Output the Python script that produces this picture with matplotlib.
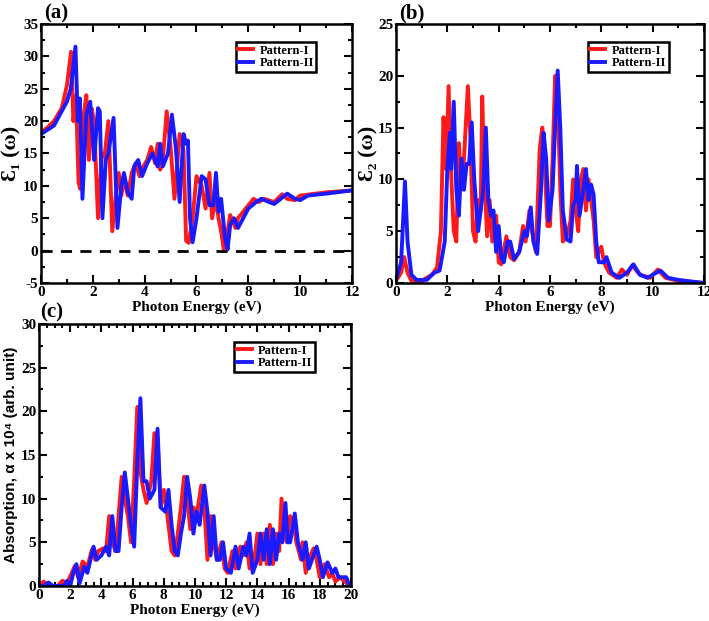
import matplotlib
matplotlib.use("Agg")
import matplotlib.pyplot as plt
from matplotlib.ticker import MultipleLocator

plt.rcParams['font.family'] = ['Liberation Serif', 'DejaVu Serif']
plt.rcParams['font.weight'] = 'bold'
plt.rcParams['axes.unicode_minus'] = False

RED = '#ff1a1a'
BLUE = '#1a1aff'

# (a) real part eps1
e1_x_p1 = [0, 0.3, 0.5, 0.8, 1.0, 1.16, 1.25, 1.35, 1.45, 1.52, 1.65, 1.75, 1.85, 1.95, 2.05,
           2.2, 2.35, 2.45, 2.6, 2.75, 2.9, 3.0, 3.1, 3.2, 3.35, 3.5, 3.65, 3.8, 3.95, 4.1,
           4.25, 4.4, 4.5, 4.6, 4.7, 4.85, 5.0, 5.15, 5.35, 5.5, 5.6, 5.7, 5.85, 6.0, 6.2,
           6.35, 6.5, 6.6, 6.75, 6.85, 6.95, 7.05, 7.2, 7.3, 7.5, 7.6, 7.9, 8.2, 8.4, 8.6,
           9.0, 9.3, 9.5, 9.8, 10.0, 11.0, 12.0]
e1_y_p1 = [18.2, 19.2, 20.0, 22.0, 25.5, 30.7, 20.0, 24.0, 10.5, 9.5, 21.0, 24.0, 14.0, 22.0, 20.0,
           5.0, 15.0, 14.5, 20.0, 3.0, 9.0, 12.0, 8.5, 11.0, 8.5, 12.0, 13.5, 11.5, 13.0, 14.0,
           16.0, 13.5, 16.5, 12.5, 14.0, 21.5, 16.0, 8.0, 18.0, 15.5, 1.5, 1.2, 5.0, 11.5, 10.0,
           6.5, 12.0, 5.0, 8.0, 5.0, 3.0, 0.2, 3.0, 5.5, 3.5, 5.0, 6.5, 8.0, 7.5, 8.0,
           7.5, 8.7, 8.0, 7.8, 8.5, 9.0, 9.3]
e1_x_p2 = [0, 0.5, 1.0, 1.15, 1.33, 1.42, 1.5, 1.6, 1.75, 1.9, 2.05, 2.2, 2.27, 2.37, 2.5,
           2.6, 2.8, 2.95, 3.1, 3.2, 3.35, 3.5, 3.6, 3.75, 3.9, 4.1, 4.3, 4.5, 4.6, 4.7,
           4.9, 5.05, 5.2, 5.35, 5.5, 5.6, 5.67, 5.75, 5.85, 6.0, 6.2, 6.35, 6.5, 6.65, 6.75,
           6.85, 6.95, 7.1, 7.2, 7.3, 7.45, 7.6, 7.8, 8.0, 8.3, 8.5, 8.8, 9.0, 9.5, 9.8,
           10.0, 10.3, 11.0, 12.0]
e1_y_p2 = [18.0, 19.3, 23.0, 25.0, 31.5, 20.0, 23.5, 8.0, 21.0, 23.0, 14.0, 22.0, 21.5, 5.0, 14.0,
           15.0, 20.5, 3.5, 10.0, 12.0, 9.0, 8.0, 13.0, 14.0, 11.5, 13.5, 15.0, 13.0, 16.5, 13.0,
           15.0, 21.0, 16.0, 7.5, 18.0, 16.5, 17.0, 5.0, 1.3, 5.0, 11.5, 11.0, 7.0, 7.0, 12.0,
           6.0, 8.0, 2.0, 0.2, 4.0, 5.0, 3.5, 5.0, 6.5, 7.5, 8.0, 7.5, 7.2, 8.8, 8.0,
           7.8, 8.5, 8.8, 9.3]

# (b) imaginary part eps2
e2_x_p1 = [0, 0.2, 0.32, 0.45, 0.6, 1.0, 1.4, 1.6, 1.75, 1.85, 1.95, 2.05, 2.15, 2.25, 2.35,
           2.45, 2.55, 2.65, 2.8, 2.9, 3.0, 3.1, 3.2, 3.3, 3.36, 3.45, 3.55, 3.65, 3.75, 3.9,
           4.0, 4.1, 4.3, 4.45, 4.6, 4.8, 4.95, 5.05, 5.2, 5.3, 5.45, 5.6, 5.7, 5.8, 5.9,
           6.0, 6.1, 6.2, 6.3, 6.4, 6.5, 6.65, 6.8, 6.9, 7.0, 7.1, 7.2, 7.3, 7.4, 7.5,
           7.6, 7.7, 7.8, 8.0, 8.1, 8.3, 8.6, 8.8, 9.0, 9.2, 9.5, 9.9, 10.2, 10.5, 11.0, 12.0]
e2_y_p1 = [0.2, 1.0, 2.5, 1.0, 0.2, 0.2, 0.8, 1.5, 5.0, 16.0, 11.0, 19.0, 10.5, 5.0, 4.0,
           13.5, 9.0, 12.0, 19.0, 14.0, 5.0, 4.0, 8.0, 7.0, 18.0, 10.0, 4.5, 8.0, 4.0, 6.5,
           2.0, 1.8, 4.5, 2.5, 2.2, 3.0, 5.5, 4.0, 7.0, 5.0, 3.0, 13.0, 15.0, 11.0, 5.5,
           5.5, 12.0, 20.0, 18.0, 9.0, 4.0, 4.5, 6.0, 10.0, 7.0, 5.0, 10.0, 11.0, 7.0, 10.0,
           8.0, 6.0, 2.5, 3.5, 2.0, 1.0, 0.5, 1.3, 0.8, 1.7, 0.8, 0.5, 1.3, 0.5, 0.2, 0.0]
e2_x_p2 = [0, 0.2, 0.35, 0.45, 0.6, 0.8, 1.2, 1.5, 1.7, 1.9, 2.0, 2.1, 2.15, 2.25, 2.35,
           2.45, 2.55, 2.65, 2.75, 2.85, 2.95, 3.05, 3.2, 3.3, 3.4, 3.5, 3.6, 3.7, 3.8, 3.9,
           4.0, 4.1, 4.2, 4.35, 4.45, 4.6, 4.8, 4.9, 5.0, 5.1, 5.25, 5.35, 5.5, 5.65, 5.75,
           5.85, 5.95, 6.1, 6.2, 6.3, 6.4, 6.5, 6.65, 6.8, 6.9, 7.0, 7.05, 7.15, 7.3, 7.4,
           7.5, 7.6, 7.7, 7.8, 7.9, 8.1, 8.2, 8.4, 8.7, 9.0, 9.25, 9.5, 9.8, 10.0, 10.3,
           10.6, 11.0, 12.0]
e2_y_p2 = [0.3, 2.0, 9.8, 4.0, 0.8, 0.3, 0.3, 1.0, 1.2, 4.0, 11.0, 14.5, 11.0, 17.5, 9.0,
           6.5, 12.0, 9.0, 11.5, 11.5, 15.5, 10.0, 5.0, 7.0, 9.0, 15.0, 8.0, 6.5, 7.0, 3.0,
           5.5, 2.5, 2.0, 4.0, 4.0, 2.3, 3.0, 4.0, 5.0, 4.5, 7.3, 4.0, 2.8, 9.0, 14.5,
           12.0, 6.0, 9.0, 15.0, 20.5, 15.0, 7.0, 4.2, 4.0, 7.5, 8.0, 11.3, 6.5, 9.0, 11.0,
           8.0, 9.5, 8.5, 4.0, 2.0, 2.0, 2.5, 1.0, 0.5, 1.0, 1.8, 0.8, 0.5, 0.8, 1.2,
           0.5, 0.3, 0.0]

# (c) absorption
ab_x_p1 = [0, 0.3, 0.6, 1.2, 1.5, 1.8, 2.1, 2.3, 2.5, 2.8, 3.1, 3.4, 3.6, 3.8, 4.1,
           4.3, 4.5, 4.7, 4.9, 5.1, 5.3, 5.5, 5.7, 5.9, 6.1, 6.3, 6.5, 6.7, 6.9, 7.2,
           7.4, 7.6, 7.8, 8.0, 8.2, 8.5, 8.7, 8.9, 9.1, 9.3, 9.5, 9.7, 9.9, 10.1, 10.4,
           10.6, 10.8, 11.0, 11.2, 11.4, 11.7, 11.9, 12.1, 12.4, 12.6, 12.9, 13.1, 13.3, 13.5, 13.8,
           14.0, 14.2, 14.4, 14.6, 14.8, 15.0, 15.2, 15.4, 15.55, 15.7, 15.9, 16.1, 16.3, 16.5, 16.8,
           16.9, 17.1, 17.3, 17.6, 17.8, 18.0, 18.3, 18.6, 18.8, 19.0, 19.3, 19.6, 19.8, 20.0]
ab_y_p1 = [0.0, 0.5, 0.0, 0.0, 0.6, 0.3, 1.5, 2.3, 1.0, 2.8, 2.2, 4.2, 3.0, 4.0, 4.3,
           4.0, 8.0, 5.0, 4.0, 8.0, 12.5, 10.0, 8.0, 5.0, 12.0, 20.5, 13.0, 11.0, 9.5, 12.0,
           17.5, 17.0, 9.0, 11.0, 8.5, 4.0, 3.5, 6.0, 9.0, 12.5, 10.0, 6.5, 9.0, 8.0, 11.5,
           9.0, 3.0, 8.0, 5.0, 3.0, 5.0, 2.0, 1.5, 4.0, 2.0, 4.5, 3.5, 5.0, 2.0, 3.0,
           6.0, 2.5, 6.0, 2.5, 7.0, 2.5, 6.0, 4.0, 10.0, 6.0, 5.0, 8.0, 7.5, 5.0, 3.0,
           5.0, 1.5, 3.0, 4.3, 3.0, 1.0, 2.5, 1.0, 1.5, 0.5, 1.0, 0.5, 0.2, 0.0]
ab_x_p2 = [0, 0.3, 0.6, 0.9, 1.6, 1.8, 2.0, 2.2, 2.4, 2.6, 2.9, 3.1, 3.5, 3.7, 4.0,
           4.3, 4.5, 4.7, 4.9, 5.1, 5.3, 5.5, 5.7, 5.9, 6.1, 6.3, 6.5, 6.7, 6.9, 7.1,
           7.4, 7.6, 7.8, 8.1, 8.3, 8.5, 8.7, 8.9, 9.1, 9.3, 9.5, 9.7, 9.9, 10.1, 10.3,
           10.6, 10.8, 11.0, 11.2, 11.4, 11.6, 11.8, 12.0, 12.3, 12.6, 12.8, 13.1, 13.3, 13.5, 13.7,
           14.0, 14.2, 14.4, 14.6, 14.8, 15.0, 15.2, 15.4, 15.6, 15.8, 15.95, 16.1, 16.4, 16.6, 16.9,
           17.1, 17.3, 17.5, 17.8, 18.0, 18.2, 18.5, 18.8, 19.0, 19.2, 19.5, 19.7, 19.9, 20.0]
ab_y_p2 = [0.0, 0.0, 0.4, 0.0, 0.0, 0.6, 0.0, 1.5, 2.5, 0.3, 2.2, 1.5, 4.5, 3.0, 3.5,
           4.5, 3.5, 8.0, 4.0, 4.0, 9.0, 13.0, 10.0, 7.0, 4.5, 14.0, 21.5, 12.0, 12.0, 10.0,
           11.0, 18.0, 9.0, 8.5, 11.0, 7.0, 4.0, 3.5, 6.0, 8.0, 12.5, 10.0, 6.0, 8.5, 7.0,
           11.5, 8.5, 3.5, 8.0, 3.0, 3.0, 5.0, 2.0, 1.5, 4.5, 2.0, 4.5, 3.5, 6.0, 1.5,
           3.0, 6.0, 3.0, 6.5, 2.5, 6.5, 3.0, 6.0, 5.0, 9.5, 5.0, 5.0, 8.3, 5.0, 3.0,
           5.0, 2.0, 3.0, 4.5, 3.0, 1.0, 2.7, 1.5, 2.0, 1.0, 1.0, 1.0, 0.0, 0.0]

fig = plt.figure(figsize=(7.09, 6.21), dpi=100)
ax_a = fig.add_axes([0.0578, 0.5443, 0.4387, 0.4171])
ax_b = fig.add_axes([0.5585, 0.5443, 0.4345, 0.4171])
ax_c = fig.add_axes([0.0550, 0.0564, 0.4400, 0.4219])


def style_axes(ax, xmax, xmaj, ymin, ymax, ymaj):
    ax.set_xlim(0, xmax)
    ax.set_ylim(ymin, ymax)
    ax.xaxis.set_major_locator(MultipleLocator(xmaj))
    ax.xaxis.set_minor_locator(MultipleLocator(xmaj / 2))
    ax.yaxis.set_major_locator(MultipleLocator(ymaj))
    ax.yaxis.set_minor_locator(MultipleLocator(ymaj / 2))
    ax.tick_params(which='both', direction='in', top=True, right=True, width=1.5,
                   labelsize=11, pad=2)
    ax.tick_params(which='major', length=6)
    ax.tick_params(which='minor', length=3)
    for sp in ax.spines.values():
        sp.set_linewidth(1.8)
    for lab in ax.get_xticklabels() + ax.get_yticklabels():
        lab.set_fontweight('bold')
    ax.set_xlabel('Photon Energy (eV)', fontsize=11, fontweight='bold', labelpad=1)
    leg = ax.legend(loc='upper right', bbox_to_anchor=(0.885, 0.93), fontsize=9,
                    handlelength=1.2, handletextpad=0.5, borderpad=0.2,
                    labelspacing=0.05, borderaxespad=0, fancybox=False,
                    edgecolor='black', framealpha=1)
    leg.get_frame().set_linewidth(1.8)
    for t in leg.get_texts():
        t.set_fontweight('bold')


ax_a.plot(e1_x_p1, e1_y_p1, color=RED, lw=2.8, label='Pattern-I')
ax_a.plot(e1_x_p2, e1_y_p2, color=BLUE, lw=2.8, label='Pattern-II')
ax_a.axhline(0, color='black', lw=2, ls=(0, (4, 3)))
style_axes(ax_a, 12, 2, -5, 35, 5)
ax_a.set_ylabel('Ɛ₁ (ω)', fontsize=16, fontweight='bold',
                family=['Liberation Serif', 'DejaVu Serif'])
ax_a.yaxis.set_label_coords(-0.062, 0.5)

ax_b.plot(e2_x_p1, e2_y_p1, color=RED, lw=2.8, label='Pattern-I')
ax_b.plot(e2_x_p2, e2_y_p2, color=BLUE, lw=2.8, label='Pattern-II')
style_axes(ax_b, 12, 2, 0, 25, 5)
ax_b.set_ylabel('Ɛ₂ (ω)', fontsize=16, fontweight='bold',
                family=['Liberation Serif', 'DejaVu Serif'])
ax_b.yaxis.set_label_coords(-0.058, 0.5)

ax_c.plot(ab_x_p1, ab_y_p1, color=RED, lw=2.8, label='Pattern-I')
ax_c.plot(ab_x_p2, ab_y_p2, color=BLUE, lw=2.8, label='Pattern-II')
style_axes(ax_c, 20, 2, 0, 30, 5)
ax_c.xaxis.set_minor_locator(MultipleLocator(0.5))
ax_c.set_ylabel('Absorption, α x 10⁴ (arb. unit)', fontsize=11, fontweight='bold',
                family=['Liberation Sans', 'DejaVu Sans'])
ax_c.yaxis.set_label_coords(-0.066, 0.5)

fig.text(0.062, 0.978, '(a)', fontsize=15, fontweight='bold', va='center')
fig.text(0.563, 0.978, '(b)', fontsize=15, fontweight='bold', va='center')
fig.text(0.057, 0.497, '(c)', fontsize=15, fontweight='bold', va='center')

fig.savefig('out.png', dpi=100)
